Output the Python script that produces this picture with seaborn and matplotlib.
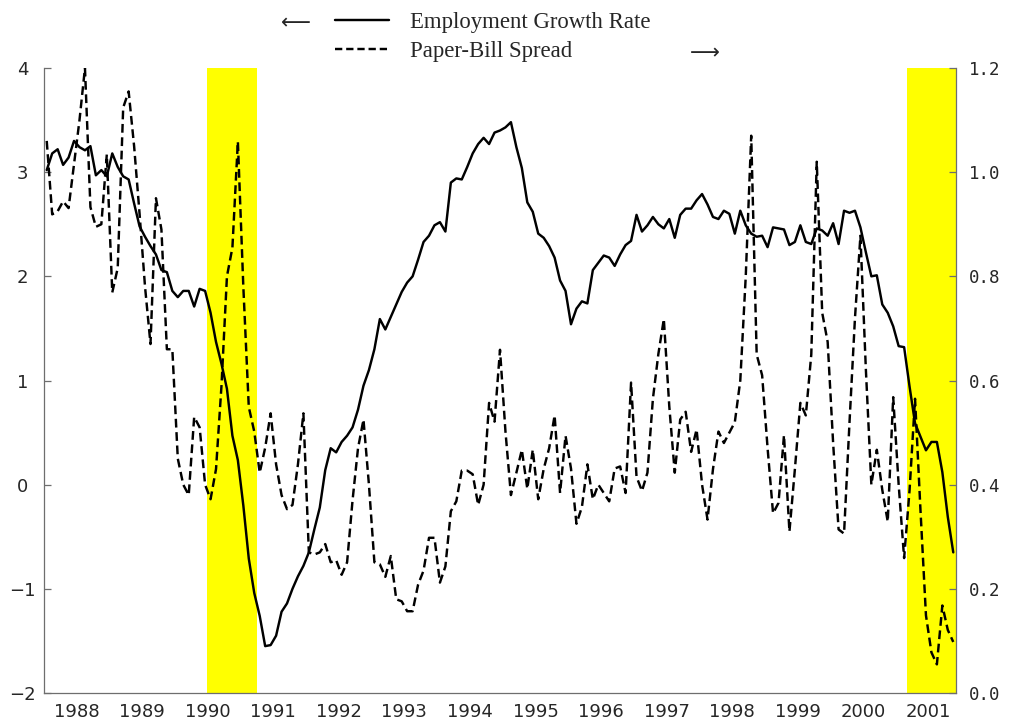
import numpy as np
import pandas as pd
import matplotlib
matplotlib.use("Agg")
import matplotlib.pyplot as plt
from matplotlib.lines import Line2D
import seaborn as sns

# ---------------- data (monthly, Jan 1988 - Nov 2001) ----------------
emp_growth = [
    3.02, 3.18, 3.22, 3.07, 3.14, 3.30, 3.24, 3.21, 3.25, 2.97, 3.02, 2.96,
    3.18, 3.05, 2.96, 2.93, 2.70, 2.48, 2.38, 2.29, 2.21, 2.06, 2.04, 1.86,
    1.80, 1.86, 1.86, 1.71, 1.88, 1.86, 1.65, 1.37, 1.16, 0.92, 0.47, 0.235,
    -0.20, -0.71, -1.04, -1.26, -1.55, -1.54, -1.45, -1.22, -1.14, -1.00, -0.88, -0.78,
    -0.65, -0.43, -0.22, 0.14, 0.35, 0.31, 0.41, 0.47, 0.55, 0.72, 0.95, 1.10,
    1.30, 1.59, 1.49, 1.61, 1.73, 1.85, 1.94, 2.00, 2.16, 2.33, 2.39, 2.49,
    2.52, 2.43, 2.90, 2.94, 2.93, 3.05, 3.18, 3.27, 3.33, 3.27, 3.38, 3.40,
    3.43, 3.48, 3.24, 3.04, 2.71, 2.62, 2.41, 2.37, 2.29, 2.18, 1.96, 1.86,
    1.54, 1.69, 1.76, 1.74, 2.06, 2.13, 2.20, 2.18, 2.10, 2.21, 2.30, 2.34,
    2.59, 2.43, 2.49, 2.57, 2.50, 2.46, 2.55, 2.37, 2.59, 2.65, 2.65, 2.73,
    2.79, 2.69, 2.57, 2.55, 2.63, 2.60, 2.41, 2.63, 2.49, 2.41, 2.38, 2.39,
    2.28, 2.47, 2.46, 2.45, 2.30, 2.33, 2.49, 2.33, 2.31, 2.46, 2.44, 2.39,
    2.51, 2.31, 2.63, 2.61, 2.63, 2.47, 2.23, 2.00, 2.01, 1.73, 1.65, 1.52,
    1.33, 1.32, 0.94, 0.59, 0.46, 0.33, 0.41, 0.41, 0.12, -0.31, -0.65,
]
paper_bill = [
    1.06, 0.919, 0.925, 0.944, 0.931, 1.015, 1.10, 1.20, 0.933, 0.895, 0.90, 1.034,
    0.769, 0.816, 1.124, 1.155, 1.05, 0.92, 0.78, 0.67, 0.95, 0.89, 0.66, 0.66,
    0.45, 0.40, 0.38, 0.53, 0.51, 0.40, 0.372, 0.43, 0.59, 0.80, 0.855, 1.059,
    0.78, 0.549, 0.502, 0.423, 0.471, 0.537, 0.439, 0.38, 0.353, 0.361, 0.439, 0.537,
    0.27, 0.266, 0.27, 0.286, 0.251, 0.255, 0.227, 0.251, 0.37, 0.47, 0.525, 0.40,
    0.251, 0.247, 0.223, 0.263, 0.18, 0.176, 0.157, 0.157, 0.208, 0.235, 0.298, 0.298,
    0.212, 0.243, 0.349, 0.368, 0.427, 0.427, 0.42, 0.361, 0.40, 0.557, 0.521, 0.659,
    0.502, 0.38, 0.423, 0.467, 0.392, 0.467, 0.372, 0.43, 0.47, 0.533, 0.384, 0.494,
    0.431, 0.325, 0.357, 0.439, 0.372, 0.40, 0.384, 0.368, 0.431, 0.435, 0.384, 0.596,
    0.415, 0.388, 0.423, 0.565, 0.651, 0.718, 0.55, 0.423, 0.525, 0.54, 0.463, 0.506,
    0.40, 0.333, 0.43, 0.502, 0.48, 0.50, 0.52, 0.60, 0.80, 1.07, 0.65, 0.61,
    0.47, 0.345, 0.365, 0.495, 0.31, 0.43, 0.557, 0.533, 0.65, 1.02, 0.73, 0.674,
    0.48, 0.314, 0.306, 0.52, 0.72, 0.878, 0.62, 0.40, 0.467, 0.39, 0.329, 0.568,
    0.40, 0.259, 0.39, 0.565, 0.35, 0.149, 0.078, 0.055, 0.168, 0.121, 0.098,
]
recession_start = [1990.48, 2001.17]
recession_end = [1991.245, 2001.917]
year_labels = [str(y) for y in range(1988, 2002)]
left_ticks = [-2, -1, 0, 1, 2, 3, 4]
right_ticks = [0.0, 0.2, 0.4, 0.6, 0.8, 1.0, 1.2]
series_labels = ["Employment Growth Rate", "Paper-Bill Spread"]

months = pd.period_range("1988-01", "2001-11", freq="M")
df = pd.DataFrame({
    "date": months.year + (months.month - 1 + 0.5) / 12.0,
    "emp": emp_growth,
    "spread": paper_bill,
})

# ---------------- styling ----------------
sns.set_style("white")
plt.rcParams["font.family"] = ["DejaVu Sans"]
plt.rcParams["axes.unicode_minus"] = True

W, H = 1010, 719
fig = plt.figure(figsize=(W / 100, H / 100), dpi=100)
ax = fig.add_axes([44 / W, 1 - 693 / H, 912 / W, 625 / H])
ax2 = ax.twinx()

grey = "#6e6e6e"
lw = 1.75
dash = (0, (3.6, 1.9))

for s, e in zip(recession_start, recession_end):
    ax.axvspan(s, e, color="#ffff00", lw=0, zorder=0)

sns.lineplot(data=df, x="date", y="emp", ax=ax, color="black", lw=lw, zorder=3)
sns.lineplot(data=df, x="date", y="spread", ax=ax2, color="black", lw=lw,
             linestyle=dash, zorder=3)

x0, x1 = 1988.0, 2001 + 11 / 12
ax.set_xlim(x0, x1)
ax.set_ylim(-2, 4)
ax2.set_ylim(0, 1.2)
for a in (ax, ax2):
    a.set_xlabel("")
    a.set_ylabel("")
    a.set_facecolor("none")

# x ticks: year boundaries (long), quarters (short), labels at mid-year
years = np.arange(1988, 2002)
ax.set_xticks(years)
ax.set_xticklabels([""] * len(years))
ax.set_xticks(np.arange(1988, 2001.95, 0.25), minor=True)
ax.tick_params(axis="x", which="major", direction="in", length=8, width=0.9, color=grey)
ax.tick_params(axis="x", which="minor", direction="in", length=4, width=0.9, color=grey)
sec = ax.secondary_xaxis("bottom")
sec.set_xticks(years + 0.5)
sec.set_xticklabels(year_labels)
sec.tick_params(length=0, pad=7, labelsize=13)
sec.spines["bottom"].set_visible(False)

# left axis
ax.set_yticks(left_ticks)
ax.set_yticklabels([f"{t:d}".replace("-", "\u2212") for t in left_ticks])
ax.tick_params(axis="y", direction="in", length=5, width=0.9, color=grey,
               labelsize=13, pad=15.5)
for lab in ax.get_yticklabels():
    lab.set_horizontalalignment("center")

# right axis
ax2.set_yticks(right_ticks)
ax2.set_yticklabels([f"{t:.1f}" for t in right_ticks], family="DejaVu Sans Mono")
ax2.tick_params(axis="y", direction="in", length=5, width=0.9, color=grey,
                labelsize=12.5, pad=9)

for a in (ax, ax2):
    a.spines["top"].set_visible(False)
ax.spines["right"].set_visible(False)
ax2.spines["left"].set_visible(False)
ax2.spines["bottom"].set_visible(False)
for a, sp in ((ax, "left"), (ax, "bottom"), (ax2, "right")):
    a.spines[sp].set_color(grey)
    a.spines[sp].set_linewidth(0.9)

# legend
handles = [Line2D([], [], color="black", lw=lw),
           Line2D([], [], color="black", lw=lw, linestyle=(0, (3.0, 1.6)))]
fig.legend(handles, series_labels, loc="upper left",
           bbox_to_anchor=(335 / W, 1 - 12 / H), frameon=False,
           prop={"family": "Liberation Serif", "size": 16.4},
           handlelength=2.37, handletextpad=0.92, labelspacing=0.37,
           borderpad=0, borderaxespad=0)
fig.text(296 / W, 1 - 23 / H, "\u27f5", ha="center", va="center", fontsize=15)
fig.text(705 / W, 1 - 53 / H, "\u27f6", ha="center", va="center", fontsize=15)

fig.savefig("out.png", dpi=100)
